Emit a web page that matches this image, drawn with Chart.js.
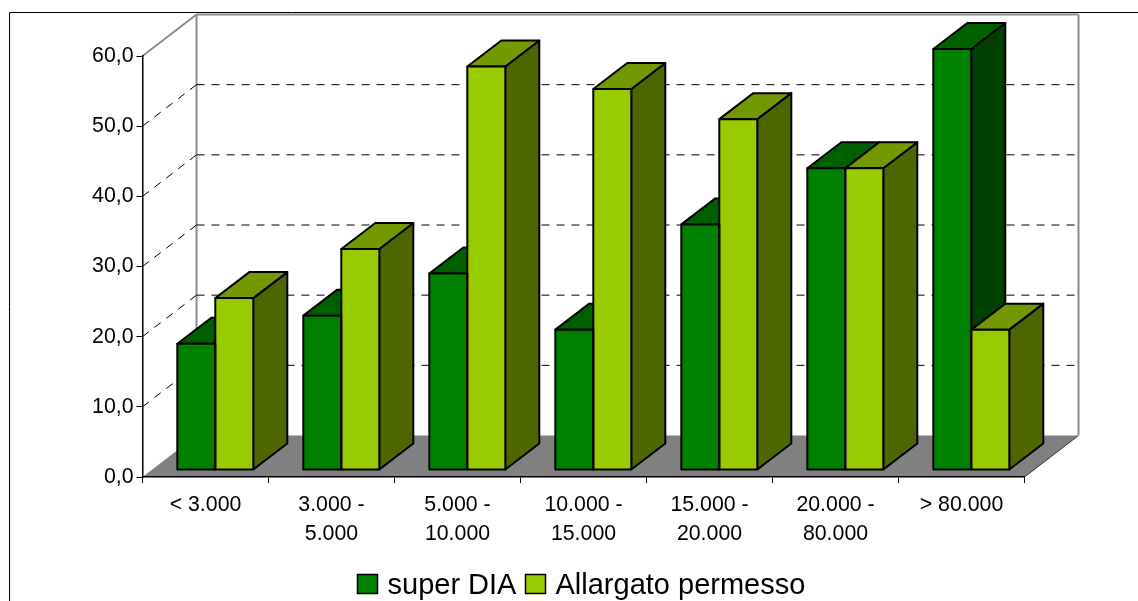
<!DOCTYPE html>
<html>
<head>
<meta charset="utf-8">
<style>
  html, body { margin: 0; background: #fff; overflow: hidden; }
  canvas { display: block; }
</style>
<script src="https://cdn.jsdelivr.net/npm/chart.js@4/dist/chart.umd.min.js"></script>
</head>
<body>
<canvas id="chart" width="1138" height="601"></canvas>
<script>
const CATEGORIES = [
  "< 3.000",
  ["3.000 -", "5.000"],
  ["5.000 -", "10.000"],
  ["10.000 -", "15.000"],
  ["15.000 -", "20.000"],
  ["20.000 -", "80.000"],
  "> 80.000",
];
const SUPER_DIA = [18, 22, 28, 20, 35, 43, 60];
const ALLARGATO = [24.5, 31.5, 57.5, 54.3, 50, 43, 20];

const FONT = "'Liberation Sans', Arial, sans-serif";

// Fake 3D: how far the back wall and the bar tops are pushed from the front plane
const WALL_DX = 54;
const WALL_DY = -41.5;
const BAR_DX = 34;
const BAR_DY = -26;
const BAR_SHIFT_X = 9.8;
const BAR_SHIFT_Y = -7;

const path = (ctx, points) => {
  ctx.beginPath();
  points.forEach(([x, y], i) => (i ? ctx.lineTo(x, y) : ctx.moveTo(x, y)));
  ctx.closePath();
};

const line = (ctx, x1, y1, x2, y2) => {
  ctx.beginPath();
  ctx.moveTo(x1, y1);
  ctx.lineTo(x2, y2);
  ctx.stroke();
};

const barBox = (bar) => {
  const { x, y, base, width } = bar.getProps(["x", "y", "base", "width"], true);
  return { left: x - width / 2, right: x + width / 2, top: y, bottom: base };
};

const walls = {
  id: "walls",
  beforeDraw(chart) {
    const { ctx, chartArea: area, scales } = chart;
    const { left, right, bottom, top } = area;
    ctx.save();

    // outer frame, only the top and left edges are on the canvas
    ctx.strokeStyle = "#000";
    ctx.lineWidth = 1;
    line(ctx, 9.5, 601, 9.5, 12.5);
    line(ctx, 9.5, 12.5, 1138, 12.5);

    // floor
    ctx.fillStyle = "#808080";
    path(ctx, [
      [left, bottom],
      [right, bottom],
      [right + WALL_DX, bottom + WALL_DY],
      [left + WALL_DX, bottom + WALL_DY],
    ]);
    ctx.fill();
    ctx.strokeStyle = "#333";
    line(ctx, right, bottom, right + WALL_DX, bottom + WALL_DY);

    // wall outline
    ctx.strokeStyle = "#8c8c8c";
    ctx.lineWidth = 2;
    line(ctx, left, top, left + WALL_DX, top + WALL_DY);
    line(ctx, left + WALL_DX, bottom + WALL_DY, left + WALL_DX, top + WALL_DY);
    line(ctx, left + WALL_DX, top + WALL_DY, right + WALL_DX, top + WALL_DY);
    line(ctx, right + WALL_DX, top + WALL_DY, right + WALL_DX, bottom + WALL_DY);

    // dashed grid on the side wall and the back wall
    ctx.strokeStyle = "#000";
    ctx.lineWidth = 1;
    ctx.setLineDash([8, 7]);
    scales.y.ticks.forEach(({ value }) => {
      if (value === 0 || value === scales.y.max) return;
      const y = scales.y.getPixelForValue(value);
      line(ctx, left, y, left + WALL_DX, y + WALL_DY);
      line(ctx, left + WALL_DX, y + WALL_DY, right + WALL_DX, y + WALL_DY);
    });
    ctx.restore();
  },
};

const bars3d = {
  id: "bars3d",
  beforeDatasetsDraw(chart) {
    const { ctx } = chart;
    ctx.save();
    ctx.translate(BAR_SHIFT_X, BAR_SHIFT_Y);
    ctx.strokeStyle = "#000";
    ctx.lineWidth = 2;
    ctx.lineJoin = "round";

    // side and top faces go first, the library paints the fronts over them
    chart.data.datasets.forEach((dataset, i) => {
      chart.getDatasetMeta(i).data.forEach((bar) => {
        const { left, right, top, bottom } = barBox(bar);
        ctx.fillStyle = dataset.sideColor;
        path(ctx, [
          [right, top],
          [right + BAR_DX, top + BAR_DY],
          [right + BAR_DX, bottom + BAR_DY],
          [right, bottom],
        ]);
        ctx.fill();
        ctx.stroke();
        ctx.fillStyle = dataset.topColor;
        path(ctx, [
          [left, top],
          [left + BAR_DX, top + BAR_DY],
          [right + BAR_DX, top + BAR_DY],
          [right, top],
        ]);
        ctx.fill();
        ctx.stroke();
      });
    });
  },
  afterDatasetsDraw(chart) {
    const { ctx } = chart;
    chart.data.datasets.forEach((dataset, i) => {
      chart.getDatasetMeta(i).data.forEach((bar) => {
        const { left, right, top, bottom } = barBox(bar);
        ctx.strokeRect(left, top, right - left, bottom - top);
      });
    });
    ctx.restore();
  },
};

// Legend is laid out by hand, the built-in one has a fixed box-to-text gap
const legend3d = {
  id: "legend3d",
  afterDraw(chart) {
    const { ctx } = chart;
    const slots = [357.5, 525.5];
    ctx.save();
    ctx.font = `29px ${FONT}`;
    ctx.textBaseline = "alphabetic";
    chart.data.datasets.forEach((dataset, i) => {
      ctx.fillStyle = dataset.backgroundColor;
      ctx.fillRect(slots[i], 574.5, 20, 19);
      ctx.strokeStyle = "#000";
      ctx.lineWidth = 1.5;
      ctx.strokeRect(slots[i], 574.5, 20, 19);
      ctx.fillStyle = "#000";
      ctx.fillText(dataset.label, slots[i] + 30, 594);
    });
    ctx.restore();
  },
};

// eslint-disable-next-line no-unused-vars
const chart = new Chart(document.getElementById("chart").getContext("2d"), {
  type: "bar",
  data: {
    labels: CATEGORIES,
    datasets: [
      {
        label: "super DIA",
        data: SUPER_DIA,
        backgroundColor: "#008000",
        sideColor: "#004000",
        topColor: "#006000",
        borderWidth: 0,
      },
      {
        label: "Allargato permesso",
        data: ALLARGATO,
        backgroundColor: "#99cc00",
        sideColor: "#4d6600",
        topColor: "#739900",
        borderWidth: 0,
      },
    ],
  },
  options: {
    responsive: false,
    animation: false,
    categoryPercentage: 0.603,
    barPercentage: 1,
    layout: { padding: { left: 0, top: 56, right: 113.5, bottom: 0 } },
    plugins: {
      legend: { display: false },
      tooltip: { enabled: false },
    },
    scales: {
      x: {
        afterFit(scale) {
          scale.height = 124;
        },
        border: { color: "#000", width: 1.5 },
        grid: { drawOnChartArea: false, color: "#000", tickLength: 6 },
        ticks: {
          color: "#000",
          padding: 8,
          autoSkip: false,
          maxRotation: 0,
          font: { family: FONT, size: 21.3, lineHeight: 1.36 },
        },
      },
      y: {
        min: 0,
        max: 60,
        afterFit(scale) {
          scale.width = 142.5;
        },
        border: { color: "#000", width: 1.5 },
        grid: { drawOnChartArea: false, color: "#000", tickLength: 6 },
        ticks: {
          stepSize: 10,
          color: "#000",
          padding: 3,
          font: { family: FONT, size: 21.3 },
          callback: (value) => value.toFixed(1).replace(".", ","),
        },
      },
    },
  },
  plugins: [walls, bars3d, legend3d],
});
</script>
</body>
</html>
